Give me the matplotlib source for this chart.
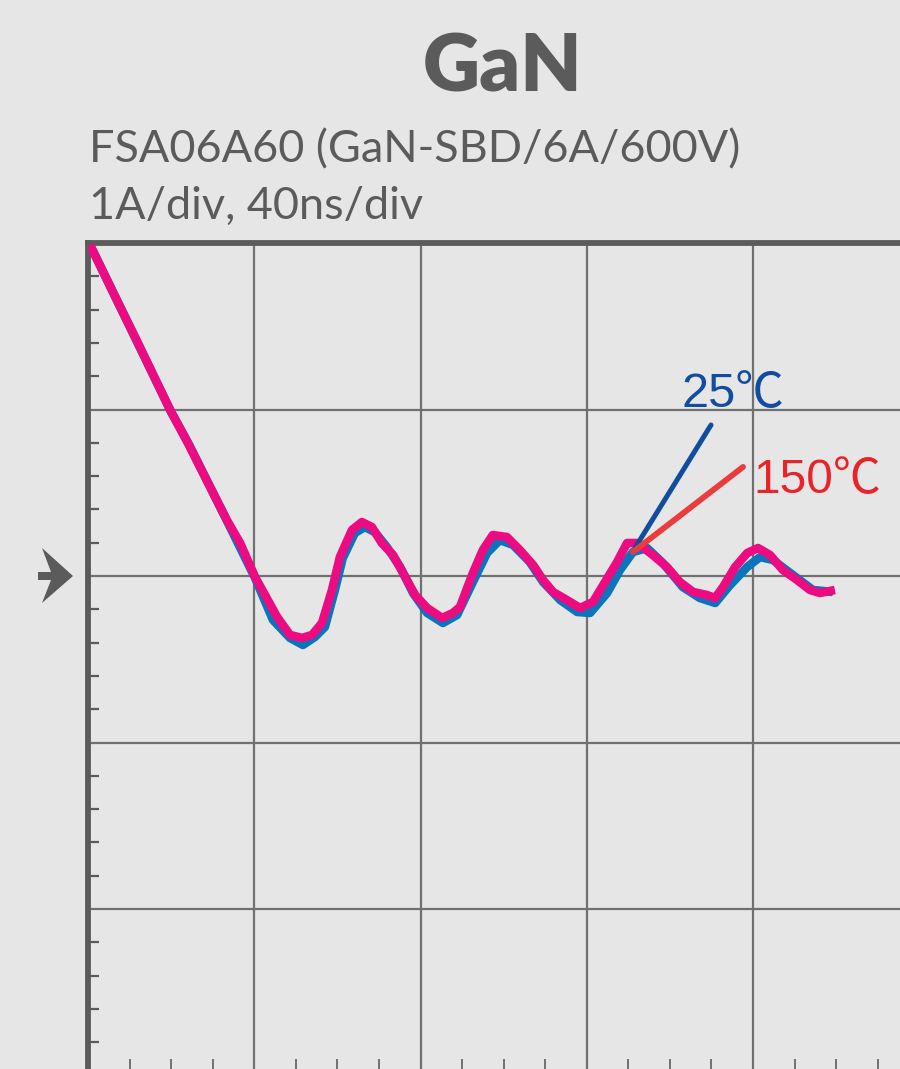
import matplotlib
matplotlib.use("Agg")
import matplotlib.pyplot as plt
from matplotlib.patches import Polygon
from matplotlib.ticker import MultipleLocator, FixedLocator

# ---------------- data (time in ns, current in A) ----------------
t_150 = [0.5, 6.1, 12.0, 19.7, 24.0, 33.4, 36.6, 40.2, 45.5, 48.6, 51.5, 53.9, 56.3, 58.7,
         60.6, 63.5, 65.9, 68.3, 70.7, 73.4, 75.8, 78.7, 81.6, 85.2, 87.8, 89.5, 92.6, 95.0,
         97.4, 100.8, 103.9, 107.1, 109.5, 111.9, 115.2, 118.4, 121.5, 124.4, 127.3, 129.7,
         132.1, 135.9, 139.3, 142.4, 145.6, 148.9, 150.9, 152.8, 155.7, 158.6, 161.2, 164.1,
         167.2, 170.6, 173.7, 176.1, 179.7]
i_150 = [1.988, 1.70, 1.40, 1.00, 0.80, 0.336, 0.198, -0.006, -0.246, -0.354, -0.372, -0.354,
         -0.282, -0.084, 0.114, 0.276, 0.324, 0.294, 0.198, 0.126, 0.018, -0.114, -0.192,
         -0.252, -0.222, -0.186, 0.018, 0.156, 0.246, 0.234, 0.156, 0.066, -0.024, -0.096,
         -0.144, -0.192, -0.156, -0.036, 0.084, 0.198, 0.198, 0.126, 0.054, -0.036, -0.096,
         -0.114, -0.132, -0.066, 0.054, 0.138, 0.168, 0.126, 0.036, -0.024, -0.084, -0.102,
         -0.084]

t_25 = [0.5, 6.3, 12.3, 20.0, 24.3, 33.7, 40.2, 44.5, 48.6, 51.7, 54.6, 57.0, 59.4, 61.3, 64.2,
        66.6, 69.0, 71.9, 75.1, 78.2, 81.6, 85.4, 88.8, 92.6, 96.0, 99.1, 102.3, 106.3,
        109.5, 113.6, 117.7, 120.8, 124.9, 128.0, 131.1, 134.5, 138.3, 143.1, 147.2, 150.9,
        154.5, 158.6, 161.7, 164.8, 169.6, 174.4, 179.2]
i_25 = [1.988, 1.69, 1.381, 0.985, 0.79, 0.318, -0.012, -0.264, -0.372, -0.414, -0.366, -0.306,
        -0.084, 0.108, 0.258, 0.294, 0.264, 0.174, 0.054, -0.102, -0.222, -0.282, -0.234,
        -0.036, 0.138, 0.216, 0.186, 0.084, -0.036, -0.144, -0.216, -0.222, -0.102, 0.036,
        0.144, 0.168, 0.078, -0.066, -0.132, -0.162, -0.054, 0.054, 0.114, 0.096, 0.006,
        -0.084, -0.096]

title = "GaN"
subtitle1 = "FSA06A60 (GaN-SBD/6A/600V)"
subtitle2 = "1A/div, 40ns/div"
label_25 = "25℃"
label_150 = "150℃"

# ---------------- style ----------------
BG = "#e6e6e6"
DARK = "#5b5b5b"
GRID = "#707070"
BLUE_TRACE = "#0a74bd"
PINK_TRACE = "#ec0b80"
BLUE_LABEL = "#124c9e"
RED_LABEL = "#ea2329"
RED_LINE = "#ea3c3c"

W, H = 900, 1069
fig = plt.figure(figsize=(W / 100, H / 100), dpi=100, facecolor=BG)

ax_left, ax_top_px = 88, 243
px_per_div_x, px_per_div_y = 166.25, 166.5
ax = fig.add_axes([ax_left / W, 0, (W - ax_left) / W, (H - ax_top_px) / H])
ax.set_facecolor(BG)
xmax = (W - ax_left) / px_per_div_x * 40
ymin = 2 - (H - ax_top_px) / px_per_div_y
ax.set_xlim(0, xmax)
ax.set_ylim(ymin, 2)

# grid
ax.xaxis.set_major_locator(MultipleLocator(40))
ax.yaxis.set_major_locator(MultipleLocator(1))
ax.grid(True, which="major", color=GRID, linewidth=1.6)
ax.set_axisbelow(True)

minor_x = [v for v in range(10, int(xmax) + 1, 10) if v % 40 != 0]
ax.xaxis.set_minor_locator(FixedLocator(minor_x))
ax.yaxis.set_minor_locator(MultipleLocator(0.2))

ax.tick_params(axis="both", which="major", length=0, labelleft=False, labelbottom=False)
ax.tick_params(axis="x", which="minor", direction="in", length=7, width=1.4, color=GRID,
               bottom=True, top=False)
ax.tick_params(axis="y", which="minor", direction="in", length=8, width=1.6, color=DARK,
               left=True, right=False)

for s in ["right", "bottom"]:
    ax.spines[s].set_visible(False)
ax.spines["left"].set_color(DARK)
ax.spines["left"].set_linewidth(4.2)
ax.spines["top"].set_color(DARK)
ax.spines["top"].set_linewidth(4.2)

# traces
ax.plot(t_25, i_25, color=BLUE_TRACE, linewidth=6.2, solid_joinstyle="round",
        solid_capstyle="butt", zorder=3)
ax.plot(t_150, i_150, color=PINK_TRACE, linewidth=6.2, solid_joinstyle="round",
        solid_capstyle="butt", zorder=4)

# labels with leader lines
ax.annotate("", xy=(131.6, 0.168), xytext=(149.9, 0.907),
            arrowprops=dict(arrowstyle="-", color=BLUE_LABEL, linewidth=3.6,
                            shrinkA=0, shrinkB=0), zorder=5)
ax.annotate("", xy=(131.1, 0.144), xytext=(157.6, 0.655),
            arrowprops=dict(arrowstyle="-", color=RED_LINE, linewidth=4.2,
                            shrinkA=0, shrinkB=0), zorder=5)
lab_font = ["Liberation Sans", "Noto Sans CJK JP", "DejaVu Sans"]
ax.text(142.9, 1.015, label_25, color=BLUE_LABEL, fontsize=35, family=lab_font,
        ha="left", va="baseline", zorder=6)
ax.text(160.0, 0.498, label_150, color=RED_LABEL, fontsize=34.5, family=lab_font,
        ha="left", va="baseline", zorder=6)

# ground-level arrow marker (left of axis)
def fpt(x, y):
    return (x / W, 1 - y / H)

arrow = Polygon([fpt(38, 572), fpt(51, 572), fpt(42, 548), fpt(73, 576),
                 fpt(42, 603), fpt(51, 580), fpt(38, 580)],
                closed=True, transform=fig.transFigure, facecolor=DARK,
                edgecolor="none")
fig.patches.append(arrow)

# titles
fig.text(503 / W, 1 - 92 / H, title, fontsize=57, fontweight="heavy", family="Lato",
         color=DARK, ha="center", va="baseline")
fig.text(89 / W, 1 - 162 / H, subtitle1, fontsize=32.4, family="Lato",
         color=DARK, ha="left", va="baseline")
fig.text(89 / W, 1 - 219 / H, subtitle2, fontsize=32.4, family="Lato",
         color=DARK, ha="left", va="baseline")

fig.savefig("out.png", dpi=100, facecolor=BG)
